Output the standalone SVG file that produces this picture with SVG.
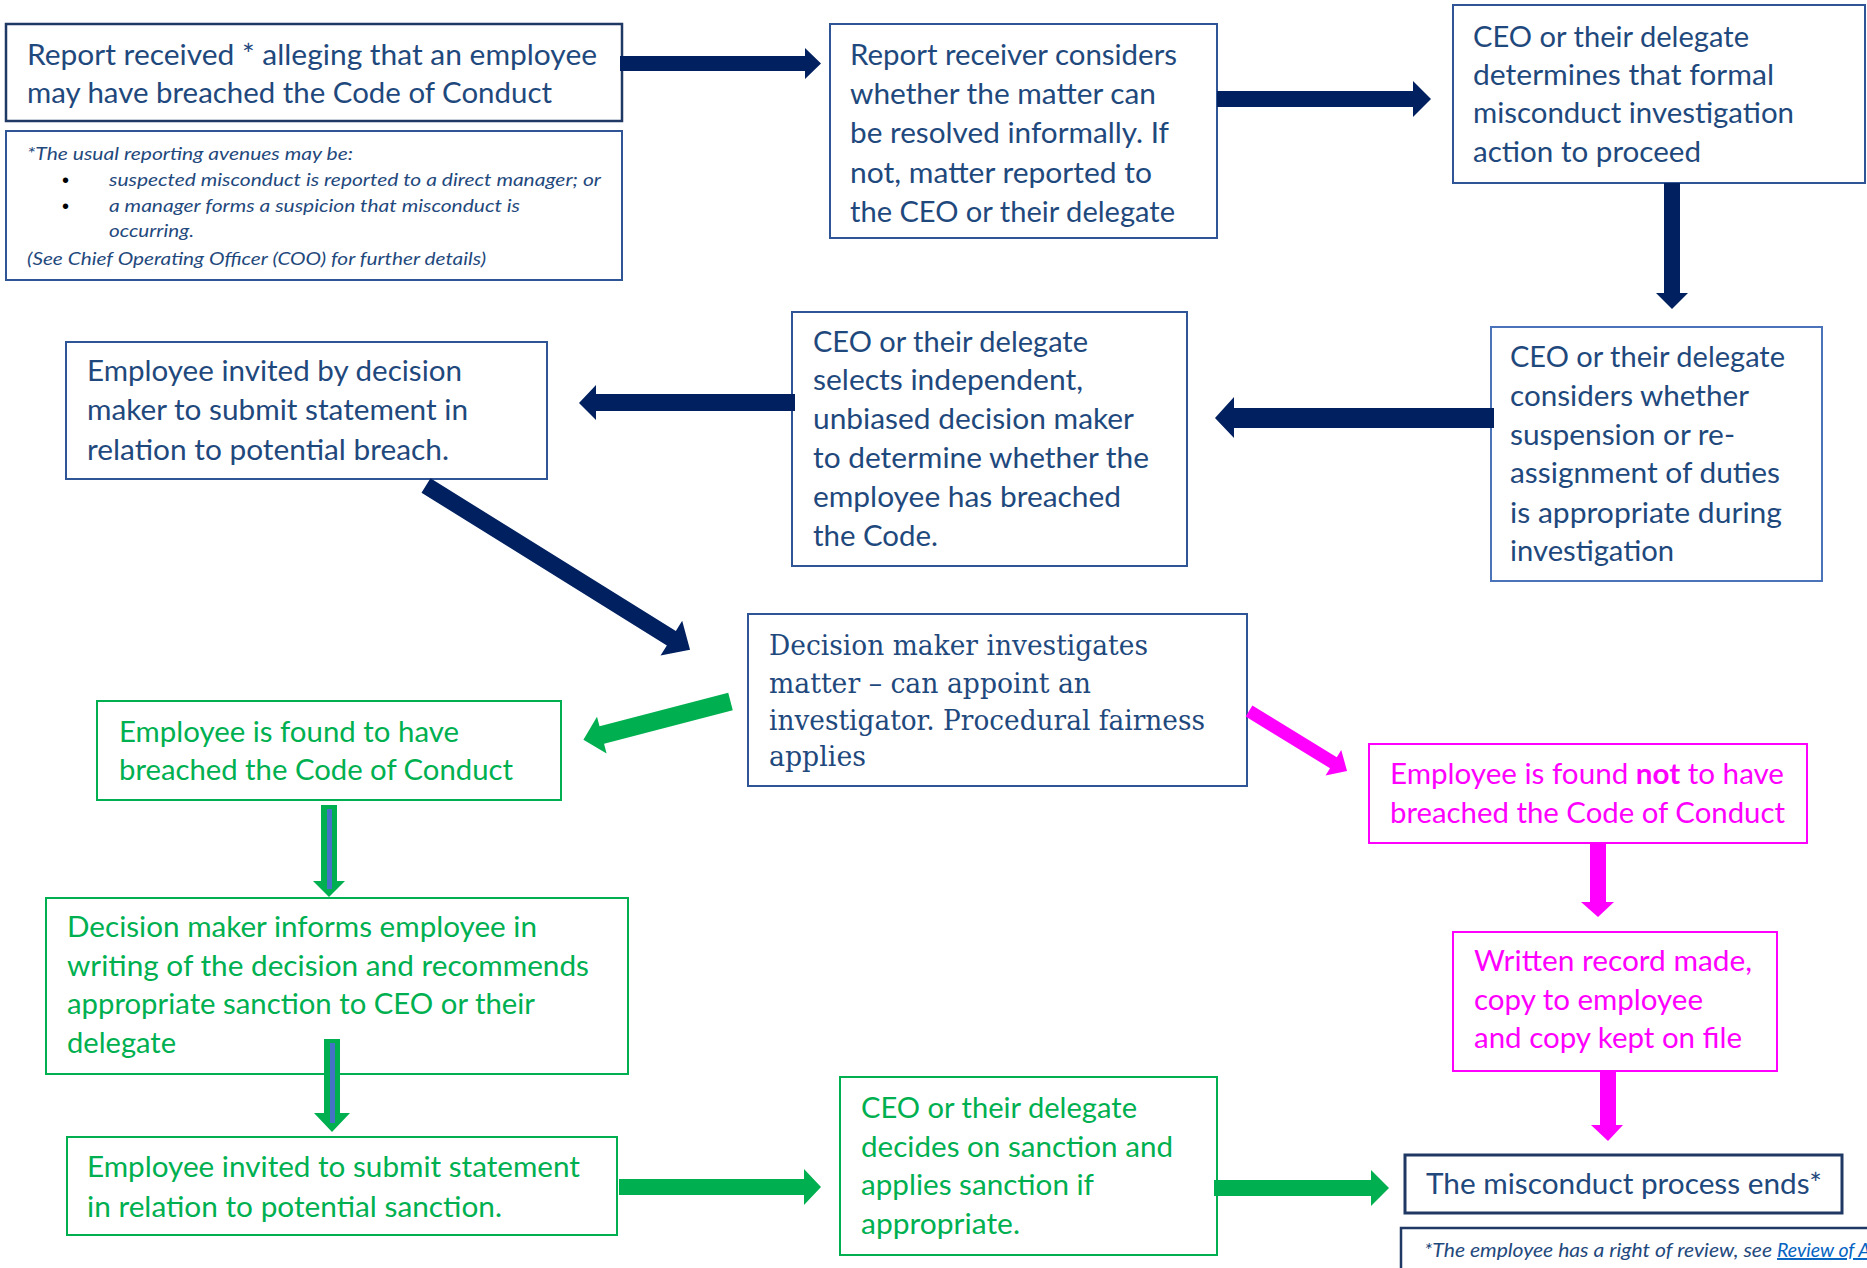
<svg xmlns="http://www.w3.org/2000/svg" width="1867" height="1268" viewBox="0 0 1867 1268">
<style>
.bx{fill:#fff;stroke:#2F5597;stroke-width:2}
.bxd{fill:#fff;stroke:#1F3864;stroke-width:2.5}
.bxl{fill:#fff;stroke:#4A73B9;stroke-width:2}
.bxg{fill:#fff;stroke:#00B050;stroke-width:2}
.bxm{fill:#fff;stroke:#FF00FF;stroke-width:2}
.t{font-family:Lato,"Open Sans","Liberation Sans",sans-serif;font-size:28px;fill:#1F497D}
.ts{font-family:"DejaVu Serif","Liberation Serif",serif;font-size:27.5px;fill:#1F497D}
.fi{font-family:Lato,"Open Sans","Liberation Sans",sans-serif;font-size:18px;font-style:italic;fill:#1F497D}
.bul{font-family:"Liberation Sans",Arial,sans-serif;font-size:20px;fill:#000}
.g{fill:#00B050}
.m{fill:#FF00FF}
.n{fill:#002060}
.inner{fill:#4472C4}
</style>

<g id="report-received">
<rect class="bxd" x="6" y="24" width="616" height="97"/>
<text class="t" x="27" y="65" textLength="570" lengthAdjust="spacingAndGlyphs">Report received * alleging that an employee</text>
<text class="t" x="27" y="103" textLength="525" lengthAdjust="spacingAndGlyphs">may have breached the Code of Conduct</text>
</g>

<g id="reporting-avenues-note">
<rect class="bx" x="6" y="131" width="616" height="149"/>
<text class="fi" x="27" y="160" textLength="326" lengthAdjust="spacingAndGlyphs">*The usual reporting avenues may be:</text>
<text class="bul" x="62" y="187">•</text>
<text class="fi" x="109" y="186" textLength="492" lengthAdjust="spacingAndGlyphs">suspected misconduct is reported to a direct manager; or</text>
<text class="bul" x="62" y="213">•</text>
<text class="fi" x="109" y="212" textLength="411" lengthAdjust="spacingAndGlyphs">a manager forms a suspicion that misconduct is</text>
<text class="fi" x="109" y="237" textLength="85" lengthAdjust="spacingAndGlyphs">occurring.</text>
<text class="fi" x="27" y="265" textLength="459" lengthAdjust="spacingAndGlyphs">(See Chief Operating Officer (COO) for further details)</text>
</g>

<g id="report-receiver">
<rect class="bx" x="830" y="24" width="387" height="214"/>
<text class="t" x="850" y="65" textLength="327" lengthAdjust="spacingAndGlyphs">Report receiver considers</text>
<text class="t" x="850" y="104" textLength="306" lengthAdjust="spacingAndGlyphs">whether the matter can</text>
<text class="t" x="850" y="143" textLength="319" lengthAdjust="spacingAndGlyphs">be resolved informally. If</text>
<text class="t" x="850" y="183" textLength="302" lengthAdjust="spacingAndGlyphs">not, matter reported to</text>
<text class="t" x="850" y="222" textLength="325" lengthAdjust="spacingAndGlyphs">the CEO or their delegate</text>
</g>

<g id="ceo-determines">
<rect class="bx" x="1453" y="5" width="412" height="178"/>
<text class="t" x="1473" y="47" textLength="276" lengthAdjust="spacingAndGlyphs">CEO or their delegate</text>
<text class="t" x="1473" y="85" textLength="301" lengthAdjust="spacingAndGlyphs">determines that formal</text>
<text class="t" x="1473" y="123" textLength="321" lengthAdjust="spacingAndGlyphs">misconduct investigation</text>
<text class="t" x="1473" y="162" textLength="228" lengthAdjust="spacingAndGlyphs">action to proceed</text>
</g>

<g id="ceo-considers-suspension">
<rect class="bxl" x="1491" y="327" width="331" height="254"/>
<text class="t" x="1510" y="367" textLength="275" lengthAdjust="spacingAndGlyphs">CEO or their delegate</text>
<text class="t" x="1510" y="406" textLength="239" lengthAdjust="spacingAndGlyphs">considers whether</text>
<text class="t" x="1510" y="445" textLength="225" lengthAdjust="spacingAndGlyphs">suspension or re-</text>
<text class="t" x="1510" y="483" textLength="270" lengthAdjust="spacingAndGlyphs">assignment of duties</text>
<text class="t" x="1510" y="523" textLength="272" lengthAdjust="spacingAndGlyphs">is appropriate during</text>
<text class="t" x="1510" y="561" textLength="164" lengthAdjust="spacingAndGlyphs">investigation</text>
</g>

<g id="ceo-selects-decision-maker">
<rect class="bx" x="792" y="312" width="395" height="254"/>
<text class="t" x="813" y="352" textLength="275" lengthAdjust="spacingAndGlyphs">CEO or their delegate</text>
<text class="t" x="813" y="390" textLength="270" lengthAdjust="spacingAndGlyphs">selects independent,</text>
<text class="t" x="813" y="429" textLength="321" lengthAdjust="spacingAndGlyphs">unbiased decision maker</text>
<text class="t" x="813" y="468" textLength="336" lengthAdjust="spacingAndGlyphs">to determine whether the</text>
<text class="t" x="813" y="507" textLength="308" lengthAdjust="spacingAndGlyphs">employee has breached</text>
<text class="t" x="813" y="546" textLength="125" lengthAdjust="spacingAndGlyphs">the Code.</text>
</g>

<g id="employee-invited-breach">
<rect class="bx" x="66" y="342" width="481" height="137"/>
<text class="t" x="87" y="381" textLength="375" lengthAdjust="spacingAndGlyphs">Employee invited by decision</text>
<text class="t" x="87" y="420" textLength="381" lengthAdjust="spacingAndGlyphs">maker to submit statement in</text>
<text class="t" x="87" y="460" textLength="362" lengthAdjust="spacingAndGlyphs">relation to potential breach.</text>
</g>

<g id="decision-maker-investigates">
<rect class="bx" x="748" y="614" width="499" height="172"/>
<text class="ts" x="769" y="655" textLength="379" lengthAdjust="spacingAndGlyphs">Decision maker investigates</text>
<text class="ts" x="769" y="693" textLength="322" lengthAdjust="spacingAndGlyphs">matter – can appoint an</text>
<text class="ts" x="769" y="730" textLength="436" lengthAdjust="spacingAndGlyphs">investigator. Procedural fairness</text>
<text class="ts" x="769" y="766" textLength="97" lengthAdjust="spacingAndGlyphs">applies</text>
</g>

<g id="found-breached">
<rect class="bxg" x="97" y="701" width="464" height="99"/>
<text class="t g" x="119" y="742" textLength="340" lengthAdjust="spacingAndGlyphs">Employee is found to have</text>
<text class="t g" x="119" y="780" textLength="394" lengthAdjust="spacingAndGlyphs">breached the Code of Conduct</text>
</g>

<g id="found-not-breached">
<rect class="bxm" x="1369" y="744" width="438" height="99"/>
<text class="t m" x="1390" y="784" textLength="394" lengthAdjust="spacingAndGlyphs">Employee is found <tspan font-weight="bold">not</tspan> to have</text>
<text class="t m" x="1390" y="823" textLength="395" lengthAdjust="spacingAndGlyphs">breached the Code of Conduct</text>
</g>

<g id="decision-maker-informs">
<rect class="bxg" x="46" y="898" width="582" height="176"/>
<text class="t g" x="67" y="937" textLength="470" lengthAdjust="spacingAndGlyphs">Decision maker informs employee in</text>
<text class="t g" x="67" y="976" textLength="522" lengthAdjust="spacingAndGlyphs">writing of the decision and recommends</text>
<text class="t g" x="67" y="1014" textLength="468" lengthAdjust="spacingAndGlyphs">appropriate sanction to CEO or their</text>
<text class="t g" x="67" y="1053" textLength="109" lengthAdjust="spacingAndGlyphs">delegate</text>
</g>

<g id="written-record">
<rect class="bxm" x="1453" y="932" width="324" height="139"/>
<text class="t m" x="1474" y="971" textLength="278" lengthAdjust="spacingAndGlyphs">Written record made,</text>
<text class="t m" x="1474" y="1010" textLength="229" lengthAdjust="spacingAndGlyphs">copy to employee</text>
<text class="t m" x="1474" y="1048" textLength="268" lengthAdjust="spacingAndGlyphs">and copy kept on file</text>
</g>

<g id="employee-invited-sanction">
<rect class="bxg" x="67" y="1137" width="550" height="98"/>
<text class="t g" x="87" y="1177" textLength="493" lengthAdjust="spacingAndGlyphs">Employee invited to submit statement</text>
<text class="t g" x="87" y="1217" textLength="415" lengthAdjust="spacingAndGlyphs">in relation to potential sanction.</text>
</g>

<g id="ceo-decides-sanction">
<rect class="bxg" x="840" y="1077" width="377" height="178"/>
<text class="t g" x="861" y="1118" textLength="276" lengthAdjust="spacingAndGlyphs">CEO or their delegate</text>
<text class="t g" x="861" y="1157" textLength="312" lengthAdjust="spacingAndGlyphs">decides on sanction and</text>
<text class="t g" x="861" y="1195" textLength="233" lengthAdjust="spacingAndGlyphs">applies sanction if</text>
<text class="t g" x="861" y="1234" textLength="159" lengthAdjust="spacingAndGlyphs">appropriate.</text>
</g>

<g id="process-ends">
<rect class="bxd" x="1405" y="1155" width="437" height="58" style="stroke-width:3"/>
<text class="t" x="1426" y="1194" textLength="396" lengthAdjust="spacingAndGlyphs">The misconduct process ends*</text>
</g>

<g id="review-note">
<rect class="bxd" x="1401" y="1228" width="520" height="80"/>
<text class="fi" x="1424" y="1257" style="font-size:19.5px" textLength="348" lengthAdjust="spacingAndGlyphs">*The employee has a right of review, see</text>
<text class="fi" x="1777" y="1257" style="font-size:19.5px;fill:#0563C1;text-decoration:underline">Review of A</text>
</g>

<g id="connectors">
<polygon class="n" points="620,56 805,56 805,48 821,63.5 805,79 805,71 620,71"/>
<polygon class="n" points="1217,91 1413,91 1413,81 1431,99 1413,117 1413,107 1217,107"/>
<polygon class="n" points="1664,183 1680,183 1680,293 1688,293 1672,309 1656,293 1664,293"/>
<polygon class="n" points="1494,408 1234,408 1234,397 1215,418 1234,438 1234,428 1494,428"/>
<polygon class="n" points="795,394 596,394 596,385 579,403 596,420 596,411 795,411"/>
<polygon class="n" transform="translate(426,485.5) rotate(31.9)" points="0,-8.5 289,-8.5 289,-20.5 311,0 289,20.5 289,8.5 0,8.5"/>
<polygon class="g" transform="translate(730.5,701.5) rotate(165.4)" points="0,-9 133,-9 133,-19 152,0 133,19 133,9 0,9"/>
<polygon class="m" transform="translate(1249,711) rotate(31.5)" points="0,-6.5 99,-6.5 99,-15 115,0 99,15 99,6.5 0,6.5"/>
<polygon class="g" points="321,805 337,805 337,881 345,881 329,897 313,881 321,881"/>
<rect class="inner" x="327" y="809" width="5" height="80"/>
<polygon class="g" points="324,1039 340,1039 340,1113 350,1113 332,1132 314,1113 324,1113"/>
<rect class="inner" x="330" y="1043" width="5" height="80"/>
<polygon class="g" points="619,1179 804,1179 804,1169 821,1187 804,1205 804,1195 619,1195"/>
<polygon class="g" points="1214,1180 1371,1180 1371,1170 1389,1188 1371,1206 1371,1196 1214,1196"/>
<polygon class="m" points="1590,843 1606,843 1606,902 1614,902 1598,917 1581,902 1590,902"/>
<polygon class="m" points="1600,1071 1616,1071 1616,1125 1623,1125 1608,1141 1591,1125 1600,1125"/>
</g>
</svg>
